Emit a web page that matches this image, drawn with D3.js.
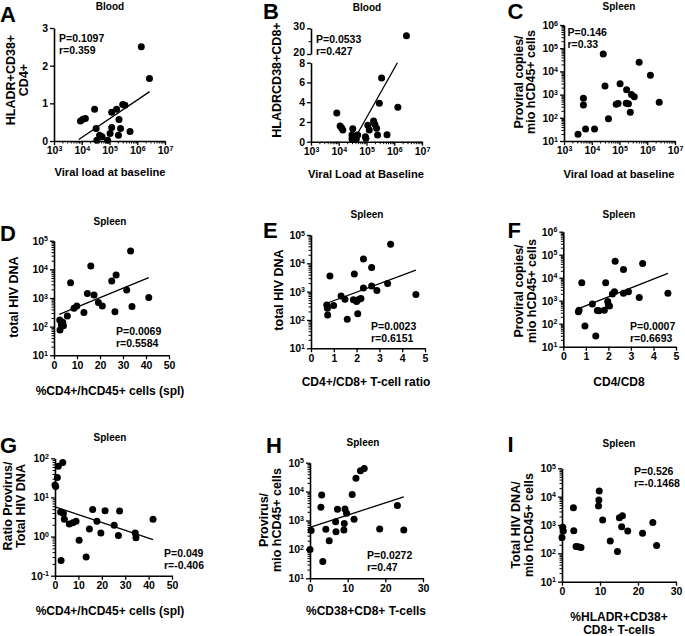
<!DOCTYPE html>
<html>
<head>
<meta charset="utf-8">
<script src="https://cdn.jsdelivr.net/npm/d3@7"></script>
<style>
  html, body { margin: 0; padding: 0; background: #fff; }
  svg text { font-family: "Liberation Sans", Arial, Helvetica, sans-serif; font-weight: bold; fill: #000; }
</style>
</head>
<body>
<svg id="fig" width="685" height="636"></svg>
<script>
// ---- data: [x, y] per animal ----
const bloodCD4 = [[1.4e6, 2.5], [2.75e6, 1.66], [9e3, 0.53], [1.35e4, 0.6], [1.1e4, 0.58], [2.9e4, 0.84],
  [1.2e5, 0.76], [1.8e5, 0.84], [3.0e5, 0.97], [3.6e5, 0.95], [2.2e5, 0.57], [3.3e4, 0.33], [4.4e4, 0.15],
  [5.4e4, 0.11], [3.5e4, 0.02], [8.5e4, 0.02], [1.2e5, 0.36], [1.05e5, 0.2], [2.1e5, 0.15], [2.5e5, 0.33], [5.5e5, 0.25]];
const bloodCD8 = [[2.75e6, 27.1], [8.5e3, 2.9], [1.12e4, 1.59], [1.26e4, 1.42], [1.4e4, 1.18], [3.2e4, 1.32],
  [3.0e4, 0.68], [3.0e4, 0.3], [4.3e4, 0.27], [4.8e4, 0.68], [9.1e4, 0.5], [9.5e4, 0.35], [1.12e5, 1.66], [1.26e5, 1.18],
  [1.8e5, 2.1], [2.0e5, 1.76], [2.3e5, 1.35], [2.5e5, 0.68], [3.5e5, 6.45], [2.9e5, 3.9], [5.5e5, 0.71], [1.35e6, 3.48]];
const vlProvirus = [[3.2e3, 19.5], [6.0e3, 33], [5.0e3, 690], [5.0e3, 355], [1.26e4, 33], [2.6e4, 5.6e4],
  [3.0e4, 2350], [4.0e4, 91], [8.9e4, 410], [7.6e4, 380], [1.05e5, 2900], [1.8e5, 1600], [1.75e5, 420], [2.1e5, 400],
  [2.45e5, 174], [2.7e5, 1020], [3.4e5, 810], [5.1e5, 2.5e4], [1.3e6, 6900], [2.7e6, 470]];
const cd4TotalDNA = [[2.5, 170], [2.6, 76], [3.2, 118], [3.8, 141], [4.1, 107], [5.8, 234], [7.2, 3390], [8.7, 437],
  [9.9, 525], [13, 309], [14.5, 1450], [16, 13200], [17.4, 1260], [19.3, 690], [21, 525], [25.1, 3890], [27, 6300],
  [26.5, 331], [31.6, 1900], [33.3, 43600], [33.9, 500], [41.2, 1050]];
const ratioTotalDNA = [[0.69, 339], [0.72, 257], [0.73, 151], [0.83, 3550], [0.99, 324], [1.32, 708], [1.49, 537],
  [1.59, 105], [1.86, 513], [1.9, 4170], [2.0, 447], [2.05, 166], [2.11, 537], [2.19, 575], [2.3, 14100], [2.3, 1350],
  [2.66, 7080], [2.66, 1585], [2.89, 1100], [3.36, 1950], [3.49, 46800], [4.6, 794]];
const ratioProvirus = [[0.67, 331], [0.7, 389], [0.82, 6030], [0.96, 79], [1.29, 724], [1.44, 29], [1.51, 372],
  [1.58, 363], [1.82, 389], [1.88, 6030], [1.97, 912], [2.0, 646], [2.05, 589], [2.18, 1950], [2.27, 2450],
  [2.3, 52500], [2.67, 2090], [2.67, 22900], [2.89, 2450], [3.37, 1380], [3.52, 41700], [4.64, 2090]];
const cd4Ratio = [[0, 20.9], [0.3, 19], [1, 32.4], [1.4, 63], [3.3, 77.6], [2.4, 4.27], [3.6, 3.89], [4, 2.75],
  [6.1, 2.09], [7.6, 2.24], [9, 2.45], [2.6, 0.245], [10.3, 0.81], [13.3, 0.30], [14.7, 1.55], [16.1, 4.9],
  [17.9, 2.45], [19.6, 1.23], [21.4, 4.57], [25.3, 1.95], [27.1, 1.07], [27.6, 4.47], [34.3, 1.23], [34.6, 0.93], [41.9, 2.75]];
const cd38Provirus = [[0, 100], [0.3, 447], [3.1, 7590], [2.9, 2880], [3.4, 38], [4.2, 500], [5.1, 200], [6.8, 912],
  [6.9, 407], [7.3, 2450], [9.0, 468], [9.1, 794], [9.3, 2510], [9.7, 1780], [11.2, 7940], [11.7, 1100],
  [12.2, 28800], [13.4, 52500], [14.4, 63100], [18.5, 513], [23.2, 3310], [24.9, 468]];
const hladrTotalDNA = [[0, 363], [0.2, 832], [0.35, 617], [3, 4070], [3.1, 631], [3.7, 174], [4.3, 171], [5, 162],
  [9.6, 4680], [9.7, 7590], [9.8, 15800], [10.7, 1510], [12.7, 275], [14.6, 117], [15.1, 1820], [15.7, 871],
  [15.9, 2140], [17.3, 617], [21.2, 513], [23.9, 1230], [24.9, 191]];

// regression lines as drawn (start, end), in data units
const fitA = [[7.8e3, 0.04], [2.8e6, 1.31]];
const fitB = [[4.1e4, 0.5], [1.3e6, 8.0]];
const fitD = [[2.3, 269], [41.2, 5130]];
const fitE = [[0.69, 389], [4.6, 5750]];
const fitF = [[0.59, 417], [4.64, 15500]];
const fitG = [[0, 5.75], [41.9, 0.83]];
const fitH = [[0, 575], [24.9, 6610]];

const statsText = {
  A: ['P=0.1097', 'r=0.359'], B: ['P=0.0533', 'r=0.427'], C: ['P=0.146', 'r=0.33'],
  D: ['P=0.0069', 'r=0.5584'], E: ['P=0.0023', 'r=0.6151'], F: ['P=0.0007', 'r=0.6693'],
  G: ['P=0.049', 'r=-0.406'], H: ['P=0.0272', 'r=0.47'], I: ['P=0.526', 'r=-0.1468']
};

// ---- layout ----
const panels = [
  { id: 'A', pts: bloodCD4, fit: fitA, title: 'Blood', tx: 110, ty: 10, lx: 0, ly: 21.7,
    x: { log: true, domain: [1e3, 1e7], range: [54, 165] },
    y: { domain: [0, 3], range: [141, 28], ticks: [0, 1, 2, 3] },
    ylab: ['HLADR+CD38+', 'CD4+'], ylx: 15, yly: 80,
    xlab: ['Viral load at baseline'], xlx: 110, xly: 176, xfs: 11.2, sx: 59, sy: 41.7 },
  { id: 'B', pts: bloodCD8, fit: fitB, title: 'Blood', tx: 367, ty: 10.5, lx: 263, ly: 18.5,
    x: { log: true, domain: [1e3, 1e7], range: [311, 422] },
    y: { domain: [0, 8], range: [141.7, 62.7], ticks: [0, 2, 4, 6, 8] },
    yTop: { domain: [20, 30], range: [54, 28.3], ticks: [20, 30], minor: [25] },
    ylab: ['HLADRCD38+CD8+'], ylx: 280.5, yly: 80,
    xlab: ['Viral Load at Baseline'], xlx: 366, xly: 178, xfs: 11.2, sx: 316, sy: 43.3 },
  { id: 'C', pts: vlProvirus, fit: null, title: 'Spleen', tx: 619, ty: 10, lx: 507.5, ly: 19,
    x: { log: true, domain: [1e3, 1e7], range: [564, 675] },
    y: { log: true, domain: [1e1, 1e6], range: [141, 25] },
    ylab: ['Proviral copies/', 'mio hCD45+ cells'], ylx: 522.5, yly: 82,
    xlab: ['Viral load at baseline'], xlx: 619, xly: 178, xfs: 11.2, sx: 567.5, sy: 36 },
  { id: 'D', pts: cd4TotalDNA, fit: fitD, title: 'Spleen', tx: 110, ty: 225, lx: 0, ly: 240.7,
    x: { domain: [0, 50], range: [54, 169], ticks: [0, 10, 20, 30, 40, 50] },
    y: { log: true, domain: [1e1, 1e5], range: [355.3, 240.7] },
    ylab: ['total HIV DNA'], ylx: 18, yly: 297,
    xlab: ['%CD4+/hCD45+ cells (spl)'], xlx: 110, xly: 395, xfs: 12, sx: 116, sy: 335 },
  { id: 'E', pts: ratioTotalDNA, fit: fitE, title: 'Spleen', tx: 367, ty: 218, lx: 263, ly: 238,
    x: { domain: [0, 5], range: [311, 425], ticks: [0, 1, 2, 3, 4, 5] },
    y: { log: true, domain: [1e1, 1e5], range: [348.3, 235] },
    ylab: ['total HIV DNA'], ylx: 283, yly: 290,
    xlab: ['CD4+/CD8+ T-cell ratio'], xlx: 366, xly: 386, xfs: 12, sx: 371, sy: 330 },
  { id: 'F', pts: ratioProvirus, fit: fitF, title: 'Spleen', tx: 619, ty: 218, lx: 507.5, ly: 238,
    x: { domain: [0, 5], range: [563.3, 676], ticks: [0, 1, 2, 3, 4, 5] },
    y: { log: true, domain: [1e1, 1e6], range: [346.7, 231.7] },
    ylab: ['Proviral copies/', 'mio hCD45+ cells'], ylx: 523, yly: 291,
    xlab: ['CD4/CD8'], xlx: 619, xly: 386, xfs: 12, sx: 630, sy: 330 },
  { id: 'G', pts: cd4Ratio, fit: fitG, title: 'Spleen', tx: 110, ty: 441, lx: 0, ly: 453,
    x: { domain: [0, 50], range: [55, 172], ticks: [0, 10, 20, 30, 40, 50] },
    y: { log: true, domain: [1e-1, 1e2], range: [575.7, 458.3] },
    ylab: ['Ratio Provirus/', 'Total HIV DNA'], ylx: 12, yly: 506,
    xlab: ['%CD4+/hCD45+ cells (spl)'], xlx: 110, xly: 615, xfs: 12, sx: 164, sy: 556.7 },
  { id: 'H', pts: cd38Provirus, fit: fitH, title: 'Spleen', tx: 363, ty: 446, lx: 266, ly: 453,
    x: { domain: [0, 30], range: [310, 423], ticks: [0, 10, 20, 30] },
    y: { log: true, domain: [1e1, 1e5], range: [578.3, 462.7] },
    ylab: ['Provirus/', 'mio hCD45+ cells'], ylx: 268, yly: 520,
    xlab: ['%CD38+CD8+ T-cells'], xlx: 366, xly: 615, xfs: 12, sx: 367, sy: 559.3 },
  { id: 'I', pts: hladrTotalDNA, fit: null, title: 'Spleen', tx: 619, ty: 447, lx: 507.5, ly: 452,
    x: { domain: [0, 30], range: [562, 676], ticks: [0, 10, 20, 30] },
    y: { log: true, domain: [1e1, 1e5], range: [581.7, 468.3] },
    ylab: ['Total HIV DNA/', 'mio hCD45+ cells'], ylx: 520, yly: 525,
    xlab: ['%HLADR+CD38+', 'CD8+ T-cells'], xlx: 619, xly: 620.5, xfs: 12, sx: 634, sy: 475 }
];

const svg = d3.select('#fig');

function makeScale(a) {
  return (a.log ? d3.scaleLog() : d3.scaleLinear()).domain(a.domain).range(a.range);
}

function logTicks(domain) {
  const lo = Math.round(Math.log10(domain[0])), hi = Math.round(Math.log10(domain[1]));
  const major = [], minor = [];
  for (let e = lo; e <= hi; e++) {
    major.push(Math.pow(10, e));
    if (e < hi) for (let k = 2; k <= 9; k++) minor.push(k * Math.pow(10, e));
  }
  return { major, minor };
}

// one axis: major ticks + labels, minor ticks, 10^n labels with raised exponent
function drawAxis(g, scale, a, side, at) {
  const mk = side === 'bottom' ? d3.axisBottom : d3.axisLeft;
  const tr = side === 'bottom' ? `translate(0,${at})` : `translate(${at},0)`;
  let major = a.ticks, minor = a.minor || [];
  if (a.log) ({ major, minor } = logTicks(a.domain));
  const ax = g.append('g').attr('transform', tr)
    .call(mk(scale).tickValues(major).tickSize(4).tickSizeOuter(0).tickPadding(2).tickFormat(d3.format('d')));
  ax.select('.domain').attr('stroke-width', 1.6);
  ax.selectAll('.tick line').attr('stroke-width', 1.3);
  ax.selectAll('.tick text').attr('font-size', 10.5).attr('font-family', null);
  if (a.log) {
    ax.selectAll('.tick text').each(function (d) {
      const t = d3.select(this);
      t.text('10');
      t.append('tspan').attr('font-size', 7).attr('dy', '-0.45em').text(Math.round(Math.log10(d)));
    });
  }
  if (minor.length) {
    const mx = g.append('g').attr('transform', tr)
      .call(mk(scale).tickValues(minor).tickSize(2.5).tickSizeOuter(0).tickFormat(''));
    mx.select('.domain').remove();
    mx.selectAll('.tick line').attr('stroke-width', 1);
  }
  return ax;
}

for (const p of panels) {
  const g = svg.append('g');
  const xs = makeScale(p.x);
  const ys = makeScale(p.y);
  const yt = p.yTop ? makeScale(p.yTop) : null;
  // B has a broken y axis: values from 20 up go on the upper segment
  const yOf = v => (yt && v >= p.yTop.domain[0]) ? yt(v) : ys(v);

  drawAxis(g, xs, p.x, 'bottom', p.y.range[0]);
  drawAxis(g, ys, p.y, 'left', p.x.range[0]);
  if (yt) drawAxis(g, yt, p.yTop, 'left', p.x.range[0]).selectAll('.tick text').attr('dy', '0.15em');

  if (p.fit) {
    g.append('path').datum(p.fit)
      .attr('d', d3.line().x(d => xs(d[0])).y(d => yOf(d[1])))
      .attr('fill', 'none').attr('stroke', '#000').attr('stroke-width', 1.3);
  }

  g.selectAll('circle').data(p.pts).join('circle')
    .attr('cx', d => xs(d[0])).attr('cy', d => yOf(d[1])).attr('r', 3.5).attr('fill', '#000');

  g.append('text').attr('x', p.tx).attr('y', p.ty).attr('text-anchor', 'middle')
    .attr('font-size', 10).text(p.title);
  g.append('text').attr('x', p.lx).attr('y', p.ly).attr('font-size', 22).text(p.id);

  const yl = g.append('text').attr('transform', `translate(${p.ylx},${p.yly}) rotate(-90)`)
    .attr('text-anchor', 'middle').attr('font-size', 12.5);
  p.ylab.forEach((s, i) => yl.append('tspan').attr('x', 0).attr('y', i * 12.5).text(s));

  const xl = g.append('text').attr('text-anchor', 'middle').attr('font-size', p.xfs);
  p.xlab.forEach((s, i) => xl.append('tspan').attr('x', p.xlx).attr('y', p.xly + i * 13).text(s));

  const st = g.append('text').attr('font-size', 10.5);
  statsText[p.id].forEach((s, i) => st.append('tspan').attr('x', p.sx).attr('y', p.sy + i * 11.8).text(s));
}
</script>
</body>
</html>
